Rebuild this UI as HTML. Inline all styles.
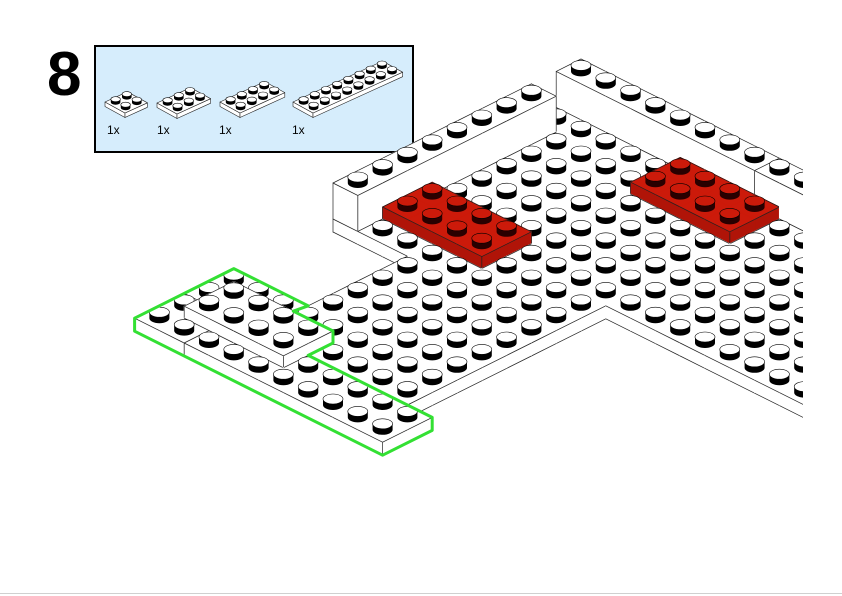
<!DOCTYPE html>
<html><head><meta charset="utf-8"><style>
html,body{margin:0;padding:0;background:#fff;}
svg{display:block;}
</style></head><body>
<svg id="s" width="842" height="596" viewBox="0 0 842 596" xmlns="http://www.w3.org/2000/svg">
<defs><clipPath id="cp"><rect x="0" y="0" width="803" height="596"/></clipPath></defs>
<rect x="0" y="0" width="842" height="596" fill="#fff"/>
<line x1="0" y1="593.5" x2="842" y2="593.5" stroke="#d0d0d0" stroke-width="1"/>
<text x="47" y="95" font-family="Liberation Sans, sans-serif" font-weight="bold" font-size="62">8</text>
<rect x="95" y="46" width="318" height="106" fill="#d6edfc" stroke="#000" stroke-width="2"/>
<g font-family="Liberation Sans, sans-serif" font-size="12" fill="#000">
<text x="107" y="134">1x</text><text x="157" y="134">1x</text><text x="219" y="134">1x</text><text x="292" y="134">1x</text>
</g>
<g id="mini"></g>
<g id="scene" clip-path="url(#cp)"></g>
<g id="green"></g>
</svg>
<script>
(function(){
function f(n){return n.toFixed(1);}
function poly(pts,fill,stroke,sw){return '<polygon points="'+pts.map(function(p){return f(p[0])+','+f(p[1]);}).join(' ')+'" fill="'+fill+'" stroke="'+(stroke||'none')+'" stroke-width="'+(sw||0.7)+'" stroke-linejoin="round"/>';}
function ln(a,b,c,w){return '<line x1="'+f(a[0])+'" y1="'+f(a[1])+'" x2="'+f(b[0])+'" y2="'+f(b[1])+'" stroke="'+(c||'#222')+'" stroke-width="'+(w||0.7)+'" stroke-linecap="round"/>';}
function stud(cx,cy,rx,ry,hh,top,body){
  var s='<path d="M'+f(cx-rx)+','+f(cy-hh)+' L'+f(cx-rx)+','+f(cy)+' A'+rx+' '+ry+' 0 0 0 '+f(cx+rx)+','+f(cy)+' L'+f(cx+rx)+','+f(cy-hh)+' Z" fill="'+body+'"/>';
  s+='<ellipse cx="'+f(cx)+'" cy="'+f(cy-hh)+'" rx="'+rx+'" ry="'+ry+'" fill="'+top+'" stroke="#000" stroke-width="0.6"/>';
  return s;
}
var m='';
function mini(x0,y0,nv){
  var a=[10,5.5],b=[11.2,-5.1],T=4.5;
  function Q(u,v,h){return [x0+a[0]*u+b[0]*v, y0+a[1]*u+b[1]*v-h];}
  m+=poly([Q(0,0,0),Q(2,0,0),Q(2,0,-T),Q(0,0,-T)],'#fff','#222',0.6);
  m+=poly([Q(2,0,0),Q(2,nv,0),Q(2,nv,-T),Q(2,0,-T)],'#fff','#222',0.6);
  m+=poly([Q(0,0,0),Q(0,nv,0),Q(2,nv,0),Q(2,0,0)],'#fff','#222',0.6);
  var st=[];
  for(var u=0;u<2;u++)for(var v=0;v<nv;v++)st.push([u,v]);
  st.sort(function(p,q){return (p[0]-p[1])-(q[0]-q[1]);});
  st.forEach(function(p){var c=Q(p[0]+.5,p[1]+.5,0);m+=stud(c[0],c[1],4.8,2.5,3,'#fff','#000');});
}
mini(105,102,2);mini(157,103,3);mini(220,102,4);mini(293,102,8);
document.getElementById('mini').innerHTML=m;

var OX=680.2,OY=343,A=24.8,B=12.4;
function P(u,v,h){return [OX+A*(u+v), OY+B*(u-v)-h];}
var cols={};
function add(u0,u1,v0,v1,h0,h1,col,id){
  for(var i=u0;i<u1;i++)for(var j=v0;j<v1;j++){
    var k=i+','+j; if(!cols[k])cols[k]={i:i,j:j,b:[]};
    cols[k].b.push({h0:h0,h1:h1,col:col,id:id});
  }
}
add(-12,-11,-2,8,-13,0,'w','floor');
add(-11,-3,-2,0,-13,0,'w','floor');
add(-9,-3,-8,-2,-13,0,'w','floor');
add(-11,13,0,8,-13,0,'w','floor');
add(-12,-10,-10,-8,-13,0,'w','g1');
add(-10,-2,-10,-8,-13,0,'w','g2');
add(-12,-9,-8,-6,-13,0,'w','g3');
add(-11,-7,-9,-7,0,12,'w','g4');
add(-12,-11,-2,6,0,36,'w','lw');
add(-12,-4,7,8,0,36,'w','bw1');
add(-4,4,7,8,0,36,'w','bw2');
add(4,13,7,8,0,36,'w','bw3');
add(-11,-7,-1,1,0,12,'r','r1');
add(-7,-3,5,7,0,12,'r','r2');

function col(i,j){return cols[i+','+j];}
function topOf(i,j){var c=col(i,j);if(!c)return -1e9;var t=-1e9;c.b.forEach(function(b){if(b.h1>t)t=b.h1;});return t;}
function topId(i,j){var c=col(i,j);if(!c)return null;var t=-1e9,id=null;c.b.forEach(function(b){if(b.h1>t){t=b.h1;id=b.id;}});return id;}
function hasId(i,j,id,h0,h1){var c=col(i,j);if(!c)return false;return c.b.some(function(b){return b.id===id&&b.h0===h0&&b.h1===h1;});}
var FILL={w:{top:'#fff',side:'#fff',st:'#fff',sb:'#000'},r:{top:'#cc1a0a',side:'#b01408',st:'#cc1a0a',sb:'#2a0000'}};
var list=Object.keys(cols).map(function(k){return cols[k];});
list.sort(function(p,q){var d=(p.i-p.j)-(q.i-q.j);return d!==0?d:p.i-q.i;});
var s='';
list.forEach(function(c){
  var i=c.i,j=c.j;
  c.b.sort(function(p,q){return p.h0-q.h0;});
  var T=topOf(i,j);
  c.b.forEach(function(b){
    var F=FILL[b.col];
    var nt=topOf(i+1,j); var lo=Math.max(b.h0,nt);
    if(lo<b.h1){
      var p1=P(i+1,j,b.h1),p2=P(i+1,j+1,b.h1),p3=P(i+1,j+1,lo),p4=P(i+1,j,lo);
      s+=poly([p1,p2,p3,p4],F.side,F.side,0.9);
      s+=ln(p1,p2)+ln(p4,p3);
      if(!hasId(i,j-1,b.id,b.h0,b.h1)||topOf(i+1,j-1)>=b.h1)s+=ln(p1,p4);
      if(!hasId(i,j+1,b.id,b.h0,b.h1))s+=ln(p2,p3);
    }
    nt=topOf(i,j-1); lo=Math.max(b.h0,nt);
    if(lo<b.h1){
      var q1=P(i,j,b.h1),q2=P(i+1,j,b.h1),q3=P(i+1,j,lo),q4=P(i,j,lo);
      s+=poly([q1,q2,q3,q4],F.side,F.side,0.9);
      s+=ln(q1,q2)+ln(q4,q3);
      if(!hasId(i-1,j,b.id,b.h0,b.h1))s+=ln(q1,q4);
      if(!hasId(i+1,j,b.id,b.h0,b.h1))s+=ln(q2,q3);
    }
    if(b.h1===T){
      var a1=P(i,j,T),a2=P(i+1,j,T),a3=P(i+1,j+1,T),a4=P(i,j+1,T);
      s+=poly([a1,a2,a3,a4],F.top,F.top,0.9);
      function diff(ni,nj){return topOf(ni,nj)!==T||topId(ni,nj)!==b.id;}
      if(diff(i-1,j))s+=ln(a1,a4);
      if(diff(i+1,j))s+=ln(a2,a3);
      if(diff(i,j-1))s+=ln(a1,a2);
      if(diff(i,j+1))s+=ln(a4,a3);
      var cc=P(i+.5,j+.5,T);
      s+=stud(cc[0],cc[1],10,5,6,F.st,F.sb);
    }
  });
});
document.getElementById('scene').innerHTML=s;

var g=[P(-12,-10,0),P(-12,-6,0),P(-9,-6,0),P(-8.6,-7,12),P(-7,-7,12),P(-7,-7,0),P(-7,-8,0),P(-2,-8,0),P(-2,-8,-13),P(-2,-10,-13),P(-12,-10,-13)];
document.getElementById('green').innerHTML='<polygon points="'+g.map(function(p){return f(p[0])+','+f(p[1]);}).join(' ')+'" fill="none" stroke="#33e033" stroke-width="3" stroke-linejoin="round"/>';
})();
</script>
</body></html>
